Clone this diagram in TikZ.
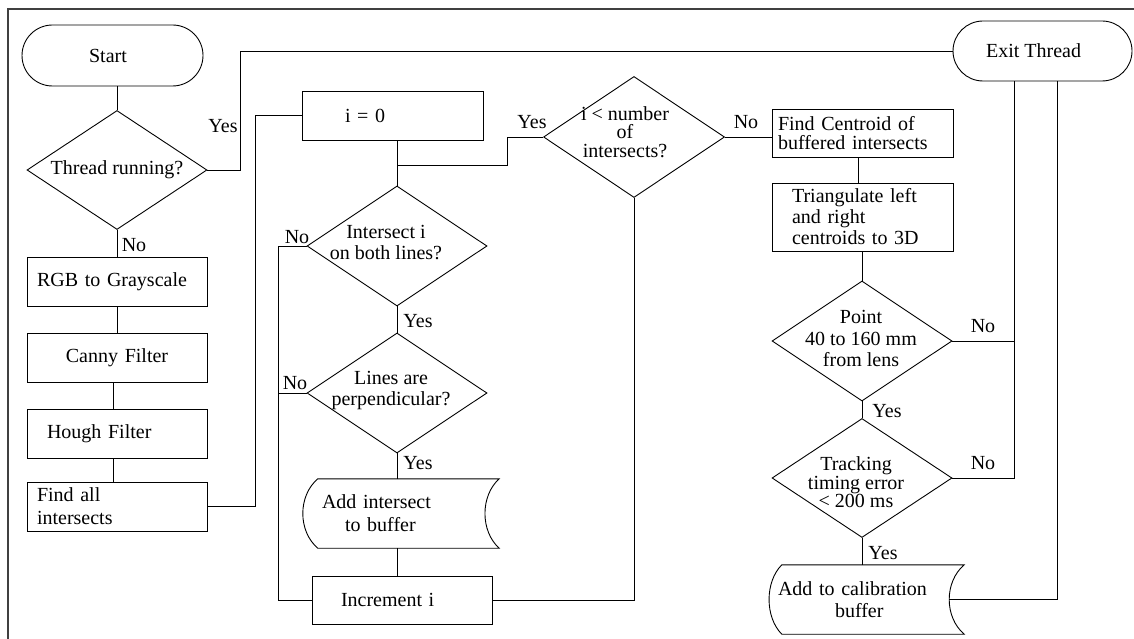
\documentclass[tikz,border=0pt]{standalone}
\usepackage{fontspec}
\setmainfont{Liberation Serif}
\usetikzlibrary{shapes.geometric,shapes.misc}
\begin{document}
\begin{tikzpicture}[x=1pt,y=-1pt,
  every node/.style={font=\fontsize{20}{21}\selectfont},
  ln/.style={line width=0.9pt},
  term/.style={draw, ln, rounded rectangle, minimum width=181pt, minimum height=61pt, inner sep=0pt},
  box/.style={draw, ln, rectangle, inner ysep=0pt, minimum height=49pt, align=left},
  dia/.style={draw, ln, diamond, inner sep=0pt, minimum width=180pt, minimum height=120pt},
  dtext/.style={align=center, inner sep=0pt},
  ans/.style={inner sep=0pt},
  store/.style={rectangle, inner ysep=0pt, minimum height=69pt, align=left},
]
\useasboundingbox (0,0) rectangle (1134,639);
\draw[line width=1.2pt, black!75] (8,639) -- (8,9) -- (1134,9);

% left column
\node[term] (start) at (112.5,55.5) {\hspace*{-9pt}Start};
\node[dia, minimum height=119pt, label={[dtext]center:{Thread running?}}] (thread) at (117,170) {};
\node[box, inner xsep=10pt, text width=160pt] (rgb) at (117,281.5) {RGB to Grayscale};
\node[box, inner xsep=10pt, text width=160pt, align=center] (canny) at (117,357.5) {Canny Filter};
\node[box, inner xsep=20pt, text width=140pt] (hough) at (117,433.5) {Hough Filter};
\node[box, inner xsep=10pt, text width=160pt, font=\fontsize{20}{23}\selectfont] (findall) at (117,506.5) {Find all\\intersects};

% middle column
\node[box, inner xsep=43pt, text width=95pt] (i0) at (392.5,115.5) {i = 0};
\node[dia, label={[dtext,xshift=-11pt,yshift=3pt]center:{Intersect i\\on both lines?}}] (inter) at (397,246) {};
\node[dia, label={[dtext,xshift=-6pt,yshift=2.5pt]center:{Lines are\\perpendicular?}}] (perp) at (397,393) {};
\node[store, inner xsep=19pt, text width=158pt, font=\fontsize{20}{23}\selectfont] (add1) at (401,513.5) {Add intersect\\\hspace*{23pt}to buffer};
\node[box, inner xsep=29pt, text width=122pt, minimum height=48pt] (inc) at (402,600) {Increment i};
\node[dia, minimum width=181pt, minimum height=121pt, label={[dtext,xshift=-9pt,yshift=5pt,font=\fontsize{20}{18.5}\selectfont]center:{i < number\\of\\intersects?}}] (ilt) at (634,137) {};

% right column
\node[term, minimum width=179pt, minimum height=60pt] (exit) at (1042.5,51) {\hspace*{-18pt}Exit Thread};
\node[box, inner xsep=6pt, text width=169pt, minimum height=48pt, font=\fontsize{20}{19}\selectfont] (findc) at (862.5,133) {Find Centroid of\\buffered intersects};
\node[box, inner xsep=20pt, text width=141pt, minimum height=68pt] (tri) at (862.5,217) {Triangulate left\\and right\\centroids to 3D};
\node[dia, label={[dtext,xshift=-1pt,yshift=2.5pt,font=\fontsize{20}{21.5}\selectfont]center:{Point\\40 to 160 mm\\from lens}}] (point) at (862,341) {};
\node[dia, minimum height=119pt, label={[dtext,xshift=-6pt,yshift=-4.5pt,font=\fontsize{20}{18.5}\selectfont]center:{Tracking\\timing error\\< 200 ms}}] (track) at (862,478) {};
\node[store, inner xsep=9pt, text width=177pt, font=\fontsize{20}{22}\selectfont] (add2) at (866.5,599.5) {Add to calibration\\\hspace*{57pt}buffer};

% stored-data outlines
\draw[ln] ([xshift=15pt]add1.north west) -- (add1.north east)
  .. controls ([xshift=-19pt,yshift=-17pt]add1.north east) and ([xshift=-19pt,yshift=17pt]add1.south east) .. (add1.south east)
  -- ([xshift=15pt]add1.south west)
  .. controls ([xshift=-5pt,yshift=17pt]add1.south west) and ([xshift=-5pt,yshift=-17pt]add1.north west) .. ([xshift=15pt]add1.north west) -- cycle;
\draw[ln] ([xshift=13pt]add2.north west) -- (add2.north east)
  .. controls ([xshift=-20pt,yshift=-17pt]add2.north east) and ([xshift=-20pt,yshift=17pt]add2.south east) .. (add2.south east)
  -- ([xshift=13pt]add2.south west)
  .. controls ([xshift=-4pt,yshift=17pt]add2.south west) and ([xshift=-4pt,yshift=-17pt]add2.north west) .. ([xshift=13pt]add2.north west) -- cycle;

% helper coordinates
\coordinate (j1) at (inter.north |- 0,165);
\coordinate (ex1) at ([xshift=-28.5pt]exit.south);
\coordinate (ex2) at ([xshift=14.5pt]exit.south);
\coordinate (a2tip) at ([xshift=-15pt]add2.east);

% connectors
\draw[ln] (thread.north |- start.south) -- (thread.north);
\draw[ln] (thread.south) -- (rgb.north);
\draw[ln] (rgb.south) -- (canny.north);
\draw[ln] ([xshift=-4pt]canny.south) -- ([xshift=-4pt]hough.north);
\draw[ln] ([xshift=-4pt]hough.south) -- ([xshift=-4pt]findall.north);
\draw[ln] (findall.east) -- ++(48,0) |- (i0.west);
\draw[ln] (thread.east) -- ++(33,0) |- (exit.west);
\draw[ln] (inter.north |- i0.south) -- (inter.north);
\draw[ln] (j1) -- ++(110,0) |- (ilt.west);
\draw[ln] (inter.south) -- (perp.north);
\draw[ln] (perp.south) -- (perp.south |- add1.north);
\draw[ln] (perp.south |- add1.south) -- (perp.south |- inc.north);
\draw[ln] (inter.west) -- ++(-28,0) |- (inc.west);
\draw[ln] (perp.west) -- ++(-28,0);
\draw[ln] (inc.east) -| (ilt.south);
\draw[ln] (ilt.east) -- (ilt.east -| findc.west);
\draw[ln] ([xshift=-4pt]findc.south) -- ([xshift=-4pt]tri.north);
\draw[ln] (point.north |- tri.south) -- (point.north);
\draw[ln] (point.south) -- (track.north);
\draw[ln] (track.south) -- (track.south |- add2.north);
\draw[ln] (point.east) -- (point.east -| ex1);
\draw[ln] (ex1) |- (track.east);
\draw[ln] (a2tip) -| (ex2);

% answer labels
\node[ans] (yes1) at (223,126) {Yes};
\node[ans] (no1) at (134,245) {No};
\node[ans] (noI) at (297,237) {No};
\node[ans] (yesI) at (418,321) {Yes};
\node[ans] (noP) at (295,383) {No};
\node[ans] (yesP) at (418,463) {Yes};
\node[ans] (yesL) at (532,122) {Yes};
\node[ans] (noL) at (746,122) {No};
\node[ans] (noPt) at (983,326) {No};
\node[ans] (yesPt) at (887,411) {Yes};
\node[ans] (noT) at (983,463) {No};
\node[ans] (yesT) at (883,553) {Yes};
\end{tikzpicture}
\end{document}
